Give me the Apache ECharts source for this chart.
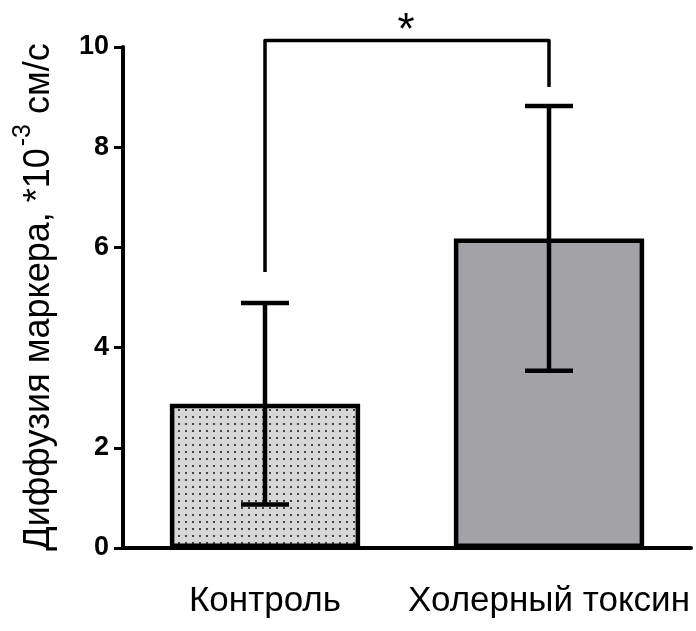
<!DOCTYPE html>
<html>
<head>
<meta charset="utf-8">
<script src="https://cdn.jsdelivr.net/npm/echarts@6/dist/echarts.min.js"></script>
<style>
  html, body { margin: 0; padding: 0; background: #fff; }
  #chart { width: 696px; height: 631px; }
</style>
</head>
<body>
<div id="chart"></div>
<script>
// Marker diffusion, mean ± SD
const groups = ['Контроль', 'Холерный токсин'];
const means = [2.88, 6.18];
const sds = [2.01, 2.64];

// Significance bracket between the two groups: leg ends and top level (axis units)
const bracketLegs = [5.51, 9.2];
const bracketTop = [10.13];
const significance = ['*'];

const FONT = '"Liberation Sans", Arial, sans-serif';

// Light grey fill with a fine dot grid for the control bar
function dotPattern() {
  const c = document.createElement('canvas');
  c.width = 7; c.height = 7;
  const g = c.getContext('2d');
  g.fillStyle = '#d7d7d7';
  g.fillRect(0, 0, 7, 7);
  g.fillStyle = '#444';
  g.fillRect(3, 3, 2, 2);
  return c;
}

const barFills = [{ image: dotPattern(), repeat: 'repeat' }, '#a3a2a7'];

const chart = echarts.init(document.getElementById('chart'), null, { renderer: 'canvas' });

chart.setOption({
  animation: false,
  backgroundColor: '#fff',
  grid: { left: 123, right: 5, top: 47, bottom: 83, containLabel: false },
  xAxis: {
    type: 'category',
    data: groups,
    axisLine: { lineStyle: { color: '#000', width: 4 } },
    axisTick: { alignWithLabel: true, length: 9, lineStyle: { color: '#000', width: 3 } },
    axisLabel: { color: '#000', fontSize: 35, fontFamily: FONT, margin: 36, interval: 0 },
    splitLine: { show: false }
  },
  yAxis: {
    type: 'value',
    min: 0, max: 10, interval: 2,
    axisLine: { show: true, lineStyle: { color: '#000', width: 4 } },
    axisTick: { show: true, length: 9, lineStyle: { color: '#000', width: 3 } },
    axisLabel: { color: '#000', fontSize: 27, fontWeight: 'bold', fontFamily: FONT, margin: 14 },
    splitLine: { show: false }
  },
  graphic: [{
    type: 'text',
    x: 34, y: 297,
    rotation: Math.PI / 2,
    style: {
      text: '{a|Диффузия маркера, *10}{s|-3}{a| см/с}',
      align: 'center', verticalAlign: 'middle',
      textAlign: 'center', textVerticalAlign: 'middle',
      fill: '#000',
      rich: {
        a: { fontSize: 36, fontFamily: FONT, fill: '#000', color: '#000', lineHeight: 46, verticalAlign: 'bottom' },
        s: { fontSize: 25, fontFamily: FONT, fill: '#000', color: '#000', lineHeight: 46, verticalAlign: 'top', padding: [0, 0, 0, 2] }
      }
    }
  }],
  series: [
    {
      type: 'bar',
      barWidth: '67%',
      data: means.map((v, i) => ({
        value: v,
        itemStyle: { color: barFills[i], borderColor: '#000', borderWidth: 4.5 }
      })),
      z: 2
    },
    {
      // error bars
      type: 'custom',
      data: groups.map((g, i) => [i, means[i], sds[i]]),
      encode: { x: 0, y: 1 },
      z: 5,
      renderItem(params, api) {
        const x = api.value(0), m = api.value(1), s = api.value(2);
        const top = api.coord([x, m + s]);
        const bot = api.coord([x, m - s]);
        const hw = 24;
        const st = { stroke: '#000', lineWidth: 4.5 };
        return {
          type: 'group',
          children: [
            { type: 'line', shape: { x1: top[0], y1: top[1], x2: bot[0], y2: bot[1] }, style: st },
            { type: 'line', shape: { x1: top[0] - hw, y1: top[1], x2: top[0] + hw, y2: top[1] }, style: st },
            { type: 'line', shape: { x1: bot[0] - hw, y1: bot[1], x2: bot[0] + hw, y2: bot[1] }, style: st }
          ]
        };
      }
    },
    {
      // significance bracket
      type: 'custom',
      clip: false,
      data: [[0, bracketLegs[0], bracketLegs[1], bracketTop[0]]],
      encode: { x: 0, y: 1 },
      z: 6,
      renderItem(params, api) {
        const l = api.coord([0, api.value(1)]);
        const r = api.coord([1, api.value(2)]);
        const tl = api.coord([0, api.value(3)]);
        const tr = api.coord([1, api.value(3)]);
        return {
          type: 'group',
          children: [
            {
              type: 'polyline',
              shape: { points: [l, tl, tr, r] },
              style: { stroke: '#000', lineWidth: 3.5, fill: null, lineJoin: 'round' }
            },
            {
              type: 'text',
              x: (tl[0] + tr[0]) / 2 - 1, y: tl[1] - 9,
              style: {
                text: significance[0],
                fill: '#000',
                fontSize: 44, fontFamily: FONT,
                align: 'center', verticalAlign: 'middle'
              }
            }
          ]
        };
      }
    }
  ]
});
</script>
</body>
</html>
